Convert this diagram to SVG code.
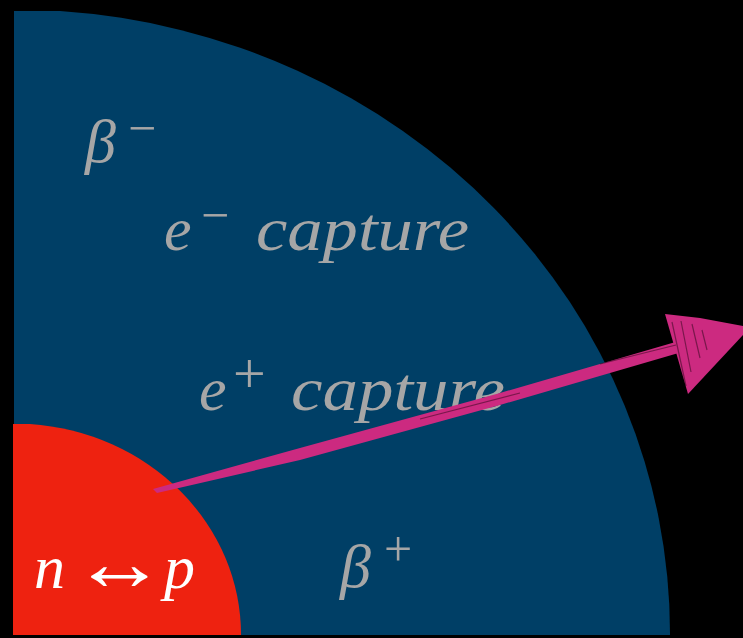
<svg xmlns="http://www.w3.org/2000/svg" width="743" height="638" viewBox="0 0 743 638">
  <style>
    .lbl { font-family: "Liberation Serif", "Times New Roman", serif; font-style: italic; font-size: 62px; fill: #A6A6A6; }
    .sym { font-family: "Liberation Serif", "Times New Roman", serif; font-style: normal; }
    .core-lbl { fill: #FFFFFF; }
    .brush { fill: #CC2A80; }
    .streak { stroke: #2a0618; stroke-width: 1.2; fill: none; opacity: 0.5; }
  </style>
  <rect width="743" height="638" fill="#000000"/>
  <g id="outer-region">
    <path d="M14,11 L60,11 A656,624 0 0 1 670,635 L14,635 Z" fill="#003F66"/>
  </g>
  <g id="core">
    <path d="M13,424 L30,424 A228,211 0 0 1 241,635 L13,635 Z" fill="#EE2210"/>
  </g>
  <g id="label-beta-minus">
    <text class="lbl" x="85" y="162" font-size="66">β<tspan class="sym" x="128" y="145" font-size="50">−</tspan></text>
  </g>
  <g id="label-e-minus-capture">
    <text class="lbl" x="164" y="250">e<tspan class="sym" x="201" y="232" font-size="50">−</tspan><tspan x="256" y="250" textLength="213" lengthAdjust="spacingAndGlyphs">capture</tspan></text>
  </g>
  <g id="label-e-plus-capture">
    <text class="lbl" x="199" y="410">e<tspan class="sym" x="233" y="393" font-size="58">+</tspan><tspan x="291" y="410" textLength="214" lengthAdjust="spacingAndGlyphs">capture</tspan></text>
  </g>
  <g id="label-beta-plus">
    <text class="lbl" x="340" y="587" font-size="66">β<tspan class="sym" x="384" y="566" font-size="50">+</tspan></text>
  </g>
  <g id="label-core">
    <text class="lbl core-lbl" x="34" y="588">n<tspan class="sym" x="72" y="590" font-size="80" textLength="95" lengthAdjust="spacingAndGlyphs">↔</tspan><tspan x="164" y="588">p</tspan></text>
  </g>
  <g id="connectors">
    <path class="brush" d="M153,489 L300,448 L500,393 L679,341 L682,352 L500,405 L300,460 L157,493 Z"/>
    <path class="brush" d="M665,314 L700,318 L743,326 L743,335 L688,394 Z"/>
    <path class="streak" d="M672,322 L686,386 M681,321 L691,372 M692,324 L700,358 M702,330 L707,350 M600,364 L676,345 M420,419 L520,393"/>
  </g>
</svg>
